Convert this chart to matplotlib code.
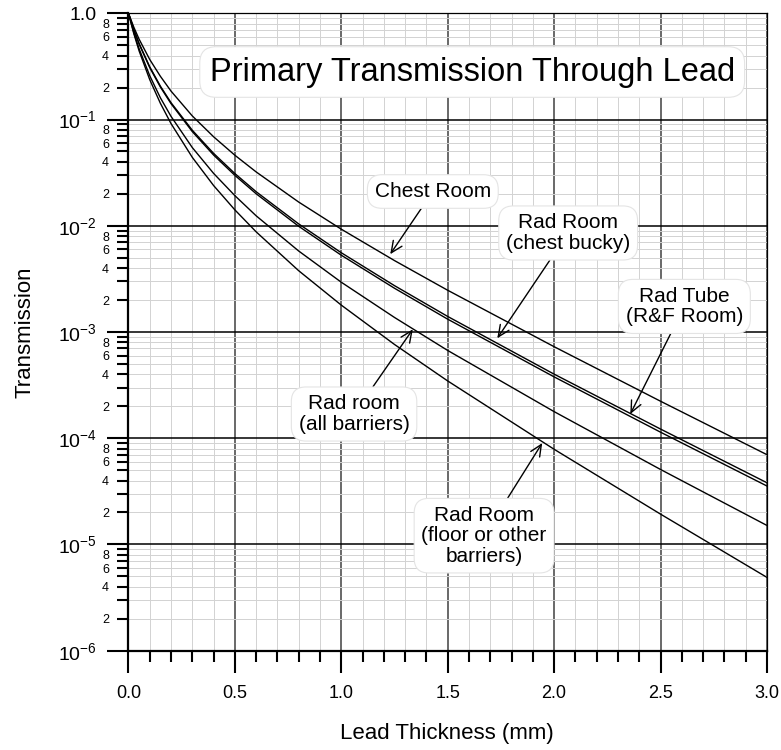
import numpy as np
import matplotlib
matplotlib.use('Agg')
import matplotlib.pyplot as plt
from matplotlib.ticker import LogLocator, MultipleLocator, FuncFormatter

plt.rcParams['font.family'] = ['Liberation Sans', 'DejaVu Sans']
plt.rcParams['mathtext.fontset'] = 'custom'
plt.rcParams['mathtext.rm'] = 'Liberation Sans'
plt.rcParams['mathtext.it'] = 'Liberation Sans:italic'

# lead thickness (mm) and transmission
thickness = [0, 0.025, 0.05, 0.1, 0.15, 0.2, 0.3, 0.4, 0.5, 0.6, 0.8, 1.0, 1.25, 1.5, 2.0, 2.5, 3.0]
chest_room = [1.0, 0.740, 0.570, 0.367, 0.255, 0.185, 0.108, 0.0688, 0.0461, 0.0321, 0.0167,
              9.28e-3, 4.70e-3, 2.47e-3, 7.27e-4, 2.23e-4, 7.0e-5]
rad_chest_bucky = [1.0, 0.703, 0.519, 0.313, 0.206, 0.144, 0.0792, 0.0480, 0.0310, 0.0209, 0.0104,
                   5.57e-3, 2.73e-3, 1.40e-3, 4.01e-4, 1.22e-4, 3.81e-5]
rad_tube_rf = [1.0, 0.699, 0.514, 0.308, 0.202, 0.141, 0.0769, 0.0463, 0.0298, 0.0200, 9.88e-3,
               5.28e-3, 2.58e-3, 1.32e-3, 3.78e-4, 1.14e-4, 3.55e-5]
rad_all_barriers = [1.0, 0.659, 0.463, 0.258, 0.160, 0.107, 0.0544, 0.0311, 0.0192, 0.0124, 5.78e-3,
                    2.94e-3, 1.37e-3, 6.70e-4, 1.78e-4, 5.08e-5, 1.51e-5]
rad_floor_other = [1.0, 0.644, 0.442, 0.237, 0.142, 0.0915, 0.0440, 0.0239, 0.0141, 8.76e-3, 3.77e-3,
                   1.79e-3, 7.63e-4, 3.46e-4, 7.87e-5, 1.93e-5, 4.9e-6]

series = [chest_room, rad_chest_bucky, rad_tube_rf, rad_all_barriers, rad_floor_other]

# label text, where the box sits, where the arrow points
labels = ['Chest Room', 'Rad Room\n(chest bucky)', 'Rad Tube\n(R&F Room)',
          'Rad room\n(all barriers)', 'Rad Room\n(floor or other\nbarriers)']
label_pos = [(1.43, 0.0210), (2.066, 8.55e-3), (2.612, 1.74e-3), (1.06, 1.69e-4), (1.671, 1.21e-5)]
arrow_tip = [(1.23, 5.4e-3), (1.733, 8.73e-4), (2.358, 1.69e-4), (1.336, 1.06e-3), (1.944, 9.0e-5)]

fig = plt.figure(figsize=(7.81, 7.5), dpi=100)
ax = fig.add_axes([0.1645, 0.1324, 0.8175, 0.8499])

for s in series:
    ax.plot(thickness, s, color='black', lw=1.0, zorder=2)

ax.set_yscale('log')
ax.set_xlim(0, 3.0)
ax.set_ylim(1e-6, 1.0)

ax.xaxis.set_major_locator(MultipleLocator(0.5))
ax.xaxis.set_minor_locator(MultipleLocator(0.1))
ax.xaxis.set_major_formatter(FuncFormatter(lambda v, p: '%.1f' % v))

ax.yaxis.set_major_locator(LogLocator(base=10, numticks=12))
ax.yaxis.set_minor_locator(LogLocator(base=10, subs=np.arange(2, 10), numticks=40))


def major_fmt(v, pos):
    if v >= 0.99:
        return '1.0'
    return '$10^{%d}$' % int(round(np.log10(v)))


def minor_fmt(v, pos):
    if v < 1e-6 or v > 1.0:
        return ''
    m = int(round(v / 10 ** np.floor(np.log10(v) + 1e-9)))
    return str(m) if m in (2, 4, 6, 8) else ''


ax.yaxis.set_major_formatter(FuncFormatter(major_fmt))
ax.yaxis.set_minor_formatter(FuncFormatter(minor_fmt))

ax.tick_params(axis='x', which='major', direction='out', length=16, width=1.5, labelsize=13, pad=9)
ax.tick_params(axis='x', which='minor', direction='out', length=8, width=1.5)
ax.tick_params(axis='y', which='major', direction='out', length=15, width=1.5, labelsize=14, pad=8)
ax.tick_params(axis='y', which='minor', direction='out', length=8, width=1.5, labelsize=9, pad=6)

ax.set_axisbelow(True)
ax.grid(which='minor', color='#d2d2d2', lw=0.7)
ax.grid(which='major', axis='x', color='#404040', lw=1.1)
ax.grid(which='major', axis='y', color='black', lw=1.1)

for side in ['left', 'bottom']:
    ax.spines[side].set_linewidth(1.6)
for side in ['top', 'right']:
    ax.spines[side].set_linewidth(0.9)

ax.text(1.615, 0.28, 'Primary Transmission Through Lead', fontsize=23.5, ha='center', va='center',
        zorder=5, bbox=dict(boxstyle='round,pad=0.3,rounding_size=0.5', fc='white', ec='#e4e4e4', lw=0.8))

for txt, pos, tip in zip(labels, label_pos, arrow_tip):
    ax.annotate(txt, xy=tip, xytext=pos, fontsize=15, ha='center', va='center',
                multialignment='center', linespacing=1.1, zorder=5,
                bbox=dict(boxstyle='round,pad=0.35,rounding_size=0.7', fc='white', ec='#e4e4e4', lw=0.8),
                arrowprops=dict(arrowstyle='->,head_length=0.55,head_width=0.25', color='black',
                                lw=1.0, shrinkA=0, shrinkB=0))

fig.text(0.032, 1 - 332 / 750, 'Transmission', rotation=90, fontsize=16, ha='center', va='center')
fig.text(447 / 781, 1 - 733 / 750, 'Lead Thickness (mm)', fontsize=16, ha='center', va='center')

fig.savefig('out.png', dpi=100)
